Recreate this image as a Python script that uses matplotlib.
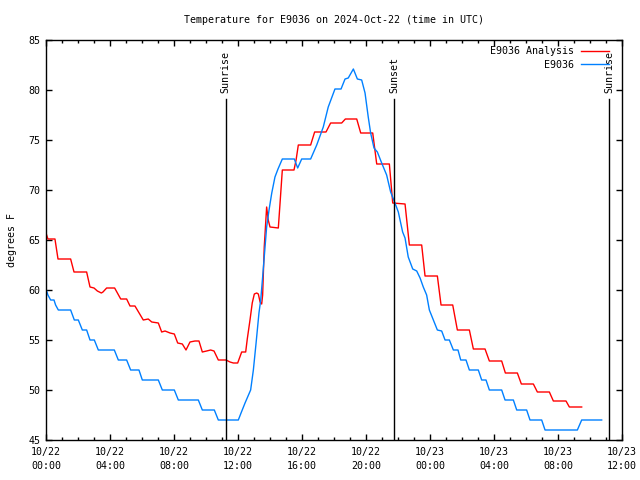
import matplotlib
matplotlib.use("Agg")
import matplotlib.pyplot as plt
from matplotlib.ticker import MultipleLocator, FixedLocator

# hours since 2024-10-22 00:00 UTC
red_hours = [0.04, 0.12, 0.56, 0.75, 1.54, 1.75, 2.54, 2.75, 3.0, 3.21, 3.46, 3.56, 3.79, 4.29,
             4.67, 5.04, 5.25, 5.56, 6.08, 6.39, 6.61, 7.02, 7.23, 7.44, 7.75, 8.02, 8.23, 8.52,
             8.75, 9.0, 9.31, 9.56, 9.77, 10.04, 10.29, 10.5, 10.77, 11.25, 11.5, 11.71, 11.98,
             12.23, 12.48, 12.58, 12.75, 12.89, 13.02, 13.17, 13.27, 13.38, 13.48, 13.54, 13.64,
             13.79, 13.89, 14.0, 14.52, 14.62, 14.77, 15.5, 15.63, 15.77, 16.54, 16.79, 17.5,
             17.79, 18.48, 18.71, 19.42, 19.67, 20.42, 20.67, 21.46, 21.67, 22.44, 22.71, 23.48,
             23.69, 24.46, 24.69, 25.42, 25.71, 26.46, 26.71, 27.44, 27.71, 28.48, 28.71, 29.46,
             29.71, 30.46, 30.71, 31.46, 31.71, 32.5, 32.71, 33.48]
red_temp = [65.5, 65.1, 65.1, 63.1, 63.1, 61.8, 61.8, 60.3, 60.2, 59.9, 59.7, 59.8, 60.2, 60.2,
            59.1, 59.1, 58.4, 58.4, 57.0, 57.1, 56.8, 56.7, 55.8, 55.9, 55.7, 55.6, 54.7, 54.6,
            54.0, 54.8, 54.9, 54.9, 53.8, 53.9, 54.0, 53.9, 53.0, 53.0, 52.8, 52.7, 52.7,
            53.8, 53.8, 55.1, 57.0, 58.7, 59.6, 59.7, 59.6, 58.8, 58.6, 59.5, 64.3,
            68.3, 67.0, 66.3, 66.2, 68.5, 72.0, 72.0, 73.0, 74.5, 74.5, 75.8, 75.8,
            76.7, 76.7, 77.1, 77.1, 75.7, 75.7, 72.6, 72.6, 68.7, 68.6, 64.5, 64.5,
            61.4, 61.4, 58.5, 58.5, 56.0, 56.0, 54.1, 54.1, 52.9, 52.9, 51.7, 51.7,
            50.6, 50.6, 49.8, 49.8, 48.9, 48.9, 48.3, 48.3]

blue_hours = [0.04, 0.12, 0.29, 0.5, 0.6, 0.77, 1.54, 1.77, 2.02, 2.27, 2.54, 2.75, 3.02, 3.27,
              4.27, 4.52, 5.04, 5.29, 5.81, 6.02, 7.02, 7.27, 8.02, 8.27, 9.52, 9.77, 10.52,
              10.77, 12.02, 12.19, 12.44, 12.79, 12.96, 13.13, 13.31, 13.42, 13.54, 13.69, 13.79,
              13.94, 14.11, 14.31, 14.5, 14.77, 15.52, 15.73, 15.98, 16.54, 16.92, 17.33, 17.64,
              18.06, 18.44, 18.69, 18.89, 19.21, 19.46, 19.73, 19.94, 20.14, 20.29, 20.5, 20.71,
              20.98, 21.29, 21.54, 21.81, 22.02, 22.29, 22.44, 22.64, 22.92, 23.17, 23.38, 23.58,
              23.79, 23.96, 24.21, 24.46, 24.73, 24.94, 25.21, 25.46, 25.75, 25.92, 26.25, 26.46,
              27.02, 27.23, 27.5, 27.71, 28.48, 28.69, 29.21, 29.42, 30.04, 30.25, 30.98, 31.19,
              33.21, 33.48, 34.73]
blue_temp = [59.9, 59.5, 59.0, 59.0, 58.5, 58.0, 58.0, 57.0, 57.0, 56.0, 56.0, 55.0, 55.0, 54.0,
             54.0, 53.0, 53.0, 52.0, 52.0, 51.0, 51.0, 50.0, 50.0, 49.0, 49.0, 48.0, 48.0,
             47.0, 47.0, 47.7, 48.7, 50.0, 52.0, 54.7, 57.7, 59.0, 61.3, 64.3, 66.3,
             68.0, 69.7, 71.3, 72.1, 73.1, 73.1, 72.2, 73.1, 73.1, 74.5, 76.3, 78.3,
             80.1, 80.1, 81.1, 81.2, 82.1, 81.1, 81.0, 79.7, 77.3, 75.7, 74.2, 73.8,
             72.7, 71.5, 69.8, 68.7, 67.8, 65.8, 65.2, 63.3, 62.1, 61.9, 61.2, 60.3,
             59.5, 58.0, 57.0, 56.0, 55.9, 55.0, 55.0, 54.0, 54.0, 53.0, 53.0, 52.0,
             52.0, 51.0, 51.0, 50.0, 50.0, 49.0, 49.0, 48.0, 48.0, 47.0, 47.0, 46.0,
             46.0, 47.0, 47.0]

sun_hours = [11.23, 21.75, 35.21]
sun_labels = ["Sunrise", "Sunset", "Sunrise"]

xtick_hours = [0, 4, 8, 12, 16, 20, 24, 28, 32, 36]
xtick_labels = ["10/22\n00:00", "10/22\n04:00", "10/22\n08:00", "10/22\n12:00", "10/22\n16:00",
                "10/22\n20:00", "10/23\n00:00", "10/23\n04:00", "10/23\n08:00", "10/23\n12:00"]

FONT = "DejaVu Sans Mono"
FS = 7.2
plt.rcParams["font.family"] = FONT
plt.rcParams["font.size"] = FS

fig = plt.figure(figsize=(6.4, 4.8), dpi=100)
ax = fig.add_axes([46 / 640, 40 / 480, 576 / 640, 400 / 480])

ax.plot(red_hours, red_temp, color="#ff0000", lw=1.0, label="E9036 Analysis")
ax.plot(blue_hours, blue_temp, color="#0080ff", lw=1.0, label="E9036")

for h, lab in zip(sun_hours, sun_labels):
    ax.axvline(h, ymin=0, ymax=0.8525, color="black", lw=1.0)
    ax.text(h, 0.8675, lab, transform=ax.get_xaxis_transform(), rotation=90,
            ha="center", va="bottom", fontsize=FS)

ax.set_xlim(0, 36)
ax.set_ylim(45, 85)
ax.xaxis.set_major_locator(FixedLocator(xtick_hours))
ax.set_xticklabels(xtick_labels)
for lbl in ax.get_xticklabels():
    lbl.set_linespacing(1.55)
ax.xaxis.set_minor_locator(MultipleLocator(1))
ax.yaxis.set_major_locator(MultipleLocator(5))

ax.tick_params(axis="both", which="both", direction="in", top=True, right=True,
               labelsize=FS, width=1.0, color="black")
ax.tick_params(axis="both", which="major", length=4.5, pad=4)
ax.tick_params(axis="x", which="major", pad=5)
ax.tick_params(axis="x", which="minor", length=2.2)
for s in ax.spines.values():
    s.set_linewidth(1.0)

ax.set_ylabel("degrees F", fontsize=FS, labelpad=8)
ax.set_title("Temperature for E9036 on 2024-Oct-22 (time in UTC)", fontsize=FS, pad=12)

leg = ax.legend(loc="upper right", bbox_to_anchor=(1.0 - 5 / 576, 1.0 + 2 / 400), frameon=False,
                markerfirst=False, handlelength=2.8, handletextpad=0.7, labelspacing=0.35,
                borderaxespad=0.4, fontsize=FS)

fig.savefig("out.png", dpi=100)
